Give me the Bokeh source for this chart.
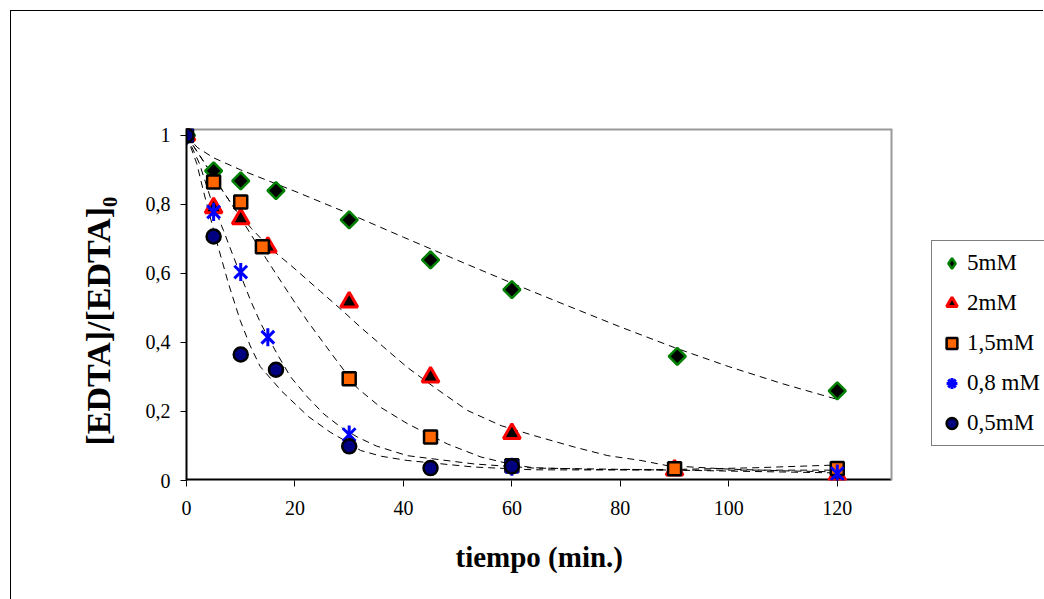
from bokeh.plotting import figure
from bokeh.models import Range1d, FixedTicker, CustomJSTickFormatter, Legend, LegendItem, Title
from bokeh.embed import file_html
from bokeh.resources import INLINE
import math

# ---------------- data ----------------
t_5mM = [0, 5, 10, 16.5, 30, 45, 60, 90.5, 120]
y_5mM = [1, 0.897, 0.868, 0.84, 0.755, 0.639, 0.553, 0.36, 0.26]

t_2mM = [0, 5, 10, 15, 30, 45, 60, 90, 120]
y_2mM = [1, 0.79, 0.758, 0.676, 0.517, 0.30, 0.136, 0.03, 0.015]

t_15mM = [0, 5, 10, 14, 30, 45, 60, 90, 120]
y_15mM = [1, 0.865, 0.807, 0.677, 0.295, 0.126, 0.043, 0.034, 0.035]

t_08mM = [0, 5, 10, 15, 30, 60, 120]
y_08mM = [1, 0.778, 0.604, 0.415, 0.133, 0.04, 0.02]

t_05mM = [0, 5, 10, 16.5, 30, 45, 60]
y_05mM = [1, 0.707, 0.365, 0.321, 0.099, 0.036, 0.041]

# fitted (dashed) curves
fit_t_5mM = [0, 2, 5, 10, 20, 30, 40, 50, 60, 70, 80, 90, 100, 110, 120]
fit_y_5mM = [1, 0.965, 0.935, 0.9, 0.838, 0.773, 0.705, 0.638, 0.572, 0.508, 0.445, 0.385, 0.33, 0.28, 0.235]

fit_t_2mM = [0, 3, 6, 9, 12, 15.5, 19.2, 24.7, 28.7, 32.1, 36.4, 40.7, 45.7, 51.8, 58, 64.1, 71.5, 77.7, 83.8, 88.7, 100, 110, 120]
fit_y_2mM = [1, 0.928, 0.855, 0.785, 0.73, 0.672, 0.624, 0.548, 0.493, 0.444, 0.386, 0.328, 0.27, 0.203, 0.159, 0.13, 0.097, 0.072, 0.058, 0.043, 0.033, 0.028, 0.025]

fit_t_15mM = [0, 3, 6, 9, 11.6, 14.8, 17.5, 19.8, 22.3, 25.3, 27.8, 31.5, 35.8, 40.7, 48.1, 54.3, 60.4, 64, 75, 90, 105, 120]
fit_y_15mM = [1, 0.928, 0.855, 0.785, 0.72, 0.64, 0.575, 0.52, 0.462, 0.398, 0.345, 0.268, 0.212, 0.165, 0.106, 0.068, 0.045, 0.037, 0.032, 0.032, 0.037, 0.045]

fit_t_08mM = [0, 2.4, 4.4, 6.8, 8.7, 11.8, 13.7, 16.7, 19.2, 22.3, 25.3, 28.4, 31.5, 35, 40.7, 53, 64, 90, 120]
fit_y_08mM = [1, 0.918, 0.82, 0.725, 0.647, 0.522, 0.455, 0.367, 0.30, 0.242, 0.193, 0.155, 0.126, 0.1, 0.072, 0.048, 0.036, 0.03, 0.022]

fit_t_05mM = [0, 1.9, 3.1, 5.6, 7.75, 9.9, 11.75, 13.6, 17.6, 22.5, 26.5, 29.7, 32.1, 36, 40.7, 53, 64, 90, 120]
fit_y_05mM = [1, 0.918, 0.84, 0.69, 0.57, 0.464, 0.39, 0.33, 0.258, 0.185, 0.14, 0.111, 0.087, 0.07, 0.058, 0.039, 0.031, 0.03, 0.03]

x_ticks = [0, 20, 40, 60, 80, 100, 120]
y_ticks = [0, 0.2, 0.4, 0.6, 0.8, 1.0]
x_max = 130
y_max = 1.02
series_labels = ["5mM", "2mM", "1,5mM", "0,8 mM", "0,5mM"]
x_title = "tiempo (min.)"
y_title = "[EDTA]/[EDTA]\u2080"

SERIF = "Liberation Serif"

# layout: plot area 705 px wide for 0..130; frame continues to the canvas edge (legend lives there)
CANVAS_W, CANVAS_H = 1033, 589
LEFT, TOP, BOTTOM = 175, 117, 120
PLOT_W = 705
frame_w = CANVAS_W - LEFT
x_end = x_max * frame_w / PLOT_W

p = figure(width=CANVAS_W, height=CANVAS_H,
           x_range=Range1d(0, x_end), y_range=Range1d(0, y_max),
           output_backend="svg", toolbar_location=None,
           min_border_left=LEFT, min_border_right=0,
           min_border_top=TOP, min_border_bottom=BOTTOM)
p.margin = (10, 0, 0, 10)
p.styles = {"border-left": "1px solid #000000", "border-top": "1px solid #000000"}

p.background_fill_color = "white"
p.border_fill_color = "white"
p.outline_line_color = None
p.xgrid.visible = False
p.ygrid.visible = False

for ax in (p.xaxis[0], p.yaxis[0]):
    ax.axis_line_color = "black"
    ax.axis_line_width = 2
    ax.major_tick_line_color = "black"
    ax.major_tick_line_width = 1
    ax.major_tick_in = 0
    ax.major_tick_out = 6
    ax.minor_tick_line_color = None
    ax.major_label_text_font = SERIF
    ax.major_label_text_font_size = "20px"
    ax.major_label_text_color = "black"

p.xaxis.axis_line_color = None
p.xaxis.ticker = FixedTicker(ticks=x_ticks)
p.yaxis.ticker = FixedTicker(ticks=y_ticks)
p.yaxis.formatter = CustomJSTickFormatter(code="return (Math.round(tick*10)/10).toString().replace('.', ',');")
p.xaxis.formatter = CustomJSTickFormatter(code="return Math.round(tick).toString();")
p.xaxis.major_label_standoff = 14
p.yaxis.major_label_standoff = 10

xt = Title(text=x_title, align="left", offset=269,
           text_font=SERIF, text_font_size="29px", text_font_style="bold",
           text_color="black", standoff=42)
p.add_layout(xt, "below")

yt = Title(text=y_title, align="left", offset=35,
           text_font=SERIF, text_font_size="34px", text_font_style="bold",
           text_color="black", standoff=51)
p.add_layout(yt, "left")

# plot-area border: black bottom axis line, grey top/right
p.line([0, x_max], [0, 0], line_color="black", line_width=4)
p.line([0, x_max], [y_max, y_max], line_color="#999999", line_width=4)
p.line([x_max, x_max], [0, y_max], line_color="#999999", line_width=2)

# dashed fitted curves
for ft, fy in [(fit_t_5mM, fit_y_5mM), (fit_t_2mM, fit_y_2mM), (fit_t_15mM, fit_y_15mM),
               (fit_t_08mM, fit_y_08mM), (fit_t_05mM, fit_y_05mM)]:
    p.line(ft, fy, line_color="black", line_width=1, line_dash="7 5")

# markers
p.scatter(t_5mM, y_5mM, marker="square", angle=math.pi / 4, size=12,
          fill_color="black", line_color="#008000", line_width=2.5)
p.scatter(t_2mM, y_2mM, marker="triangle", size=17,
          fill_color="black", line_color="#FF0000", line_width=3)
p.scatter(t_15mM, y_15mM, marker="square", size=13,
          fill_color="#FF6600", line_color="black", line_width=2.5)
p.scatter(t_08mM, y_08mM, marker="x", size=18,
          line_color="#0000FF", line_width=3)
p.scatter(t_08mM, y_08mM, marker="dash", angle=math.pi / 2, size=18,
          line_color="#0000FF", line_width=3)
p.scatter(t_05mM, y_05mM, marker="circle", size=14,
          fill_color="#000080", line_color="black", line_width=2.5)

# legend swatches (placed out of view; only used to draw the legend keys)
off = [-1000]
lg5 = p.scatter(off, off, marker="diamond", fill_color="black", line_color="#008000", line_width=2.5)
lg2 = p.scatter(off, off, marker="triangle", fill_color="black", line_color="#FF0000", line_width=3)
lg15 = p.scatter(off, off, marker="square", fill_color="#FF6600", line_color="black", line_width=2.5)
lg08 = p.scatter(off, off, marker="asterisk", line_color="#0000FF", line_width=3)
lg05 = p.scatter(off, off, marker="circle", fill_color="#000080", line_color="black", line_width=2.5)

legend = Legend(items=[LegendItem(label=series_labels[0], renderers=[lg5]),
                       LegendItem(label=series_labels[1], renderers=[lg2]),
                       LegendItem(label=series_labels[2], renderers=[lg15]),
                       LegendItem(label=series_labels[3], renderers=[lg08]),
                       LegendItem(label=series_labels[4], renderers=[lg05])],
                location=(745, 34))
legend.border_line_color = "black"
legend.border_line_width = 1
legend.background_fill_color = "white"
legend.background_fill_alpha = 1
legend.label_text_font = SERIF
legend.label_text_font_size = "23px"
legend.label_text_color = "black"
legend.glyph_width = 27
legend.glyph_height = 32
legend.label_height = 32
legend.spacing = 8
legend.padding = 6
legend.label_standoff = 2
legend.margin = 0
p.add_layout(legend)

open("out.html", "w").write(file_html(p, INLINE))
